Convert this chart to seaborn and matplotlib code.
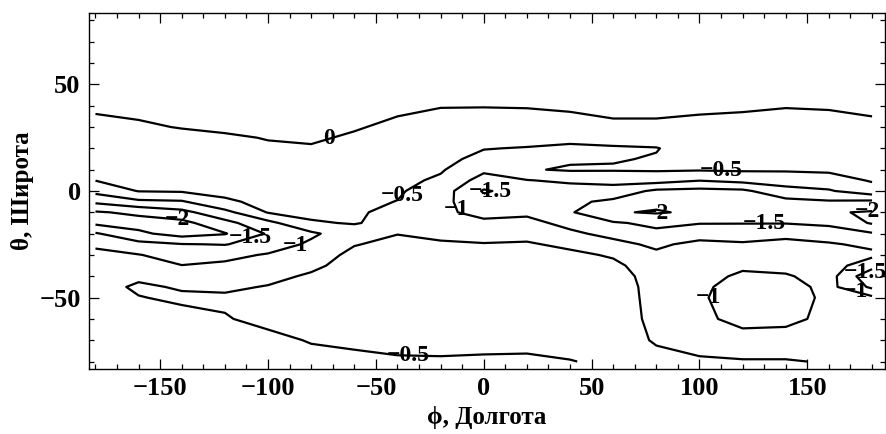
import numpy as np
import matplotlib
matplotlib.use("Agg")
import matplotlib.pyplot as plt
import seaborn as sns
from matplotlib.ticker import MultipleLocator

# ---- grid (longitude columns, latitude rows from north to south) ----
lon = [-180, -160, -140, -120, -100, -80, -60, -40, -20, 0,
       20, 40, 60, 80, 100, 120, 140, 160, 180]
lat = [80, 70, 60, 50, 40, 30, 25, 20, 15, 10, 5, 0, -5, -10, -15,
       -20, -25, -30, -35, -40, -45, -50, -60, -70, -80]

# field values, one profile per longitude (north -> south)
z_m180 = [0.5, 0.5, 0.45, 0.3, 0.05, -0.08, -0.15, -0.22, -0.3, -0.4, -0.49, -0.85, -1.4,
          -2.05, -2.1, -1.45, -1.1, -0.85, -0.75, -0.7, -0.7, -0.7, -0.7, -0.7, -0.7]
z_m160 = [0.5, 0.5, 0.45, 0.3, 0.06, -0.03, -0.1, -0.18, -0.25, -0.33, -0.42, -0.48, -1.1,
          -1.9, -2.2, -1.9, -1.35, -0.98, -0.8, -0.6, -0.42, -0.52, -0.7, -0.7, -0.7]
z_m140 = [0.5, 0.5, 0.45, 0.3, 0.15, 0.01, -0.06, -0.14, -0.22, -0.3, -0.38, -0.45, -1.05,
          -1.65, -2.15, -2.2, -1.48, -1.2, -0.99, -0.75, -0.55, -0.42, -0.65, -0.7, -0.7]
z_m120 = [0.5, 0.5, 0.45, 0.3, 0.15, 0.04, -0.03, -0.12, -0.2, -0.28, -0.35, -0.4, -0.56,
          -1.15, -1.65, -2.03, -1.52, -1.15, -0.9, -0.7, -0.56, -0.45, -0.52, -0.7, -0.7]
z_m100 = [0.5, 0.5, 0.45, 0.3, 0.15, 0.06, 0.01, -0.03, -0.1, -0.18, -0.25, -0.32, -0.4,
          -0.47, -1.15, -1.45, -1.3, -0.95, -0.75, -0.6, -0.48, -0.4, -0.42, -0.58, -0.7]
z_m80 = [0.5, 0.5, 0.45, 0.3, 0.15, 0.07, 0.03, -0.02, -0.08, -0.15, -0.22, -0.3, -0.37,
         -0.43, -0.53, -1.1, -0.9, -0.7, -0.58, -0.45, -0.38, -0.35, -0.38, -0.48, -0.6]
z_m60 = [0.5, 0.5, 0.45, 0.3, 0.12, 0.02, -0.03, -0.1, -0.17, -0.24, -0.3, -0.35, -0.4,
         -0.44, -0.48, -0.65, -0.52, -0.4, -0.35, -0.32, -0.3, -0.3, -0.32, -0.42, -0.6]
z_m40 = [0.5, 0.45, 0.4, 0.25, 0.05, -0.05, -0.12, -0.18, -0.24, -0.3, -0.37, -0.44, -0.51,
         -0.62, -0.6, -0.51, -0.4, -0.32, -0.28, -0.25, -0.25, -0.25, -0.28, -0.38, -0.55]
z_m20 = [0.5, 0.45, 0.4, 0.25, 0.01, -0.09, -0.15, -0.25, -0.35, -0.45, -0.58, -0.75, -0.85,
         -0.9, -0.85, -0.65, -0.42, -0.3, -0.25, -0.22, -0.2, -0.2, -0.22, -0.35, -0.55]
z_0 = [0.5, 0.45, 0.4, 0.25, 0.01, -0.12, -0.25, -0.48, -0.65, -0.9, -1.2, -1.55, -1.35,
       -1.15, -0.9, -0.65, -0.48, -0.3, -0.2, -0.15, -0.12, -0.1, -0.12, -0.3, -0.6]
z_20 = [0.5, 0.45, 0.4, 0.25, 0.02, -0.15, -0.3, -0.53, -0.6, -0.54, -1.02, -1.3, -1.35,
        -1.1, -0.85, -0.65, -0.45, -0.3, -0.2, -0.15, -0.1, -0.1, -0.12, -0.3, -0.62]
z_40 = [0.5, 0.45, 0.4, 0.25, 0.02, -0.05, -0.43, -0.55, -0.56, -0.45, -0.9, -1.25, -1.4,
        -1.45, -1.15, -0.9, -0.6, -0.4, -0.3, -0.2, -0.15, -0.12, -0.15, -0.3, -0.52]
z_60 = [0.5, 0.45, 0.4, 0.2, 0.06, -0.04, -0.3, -0.56, -0.53, -0.46, -0.85, -1.2, -1.6,
        -1.95, -1.45, -1.15, -0.85, -0.55, -0.4, -0.3, -0.25, -0.22, -0.2, -0.25, -0.4]
z_80 = [0.5, 0.45, 0.4, 0.2, 0.06, -0.04, -0.3, -0.52, -0.47, -0.45, -0.8, -1.6, -1.85,
        -2.05, -1.6, -1.4, -1.1, -0.9, -0.75, -0.7, -0.68, -0.68, -0.65, -0.55, -0.35]
z_100 = [0.5, 0.45, 0.4, 0.2, 0.05, -0.07, -0.18, -0.28, -0.36, -0.46, -0.98, -1.65, -1.8,
         -1.9, -1.52, -1.25, -0.85, -0.7, -0.7, -0.8, -0.88, -0.92, -0.85, -0.65, -0.45]
z_120 = [0.5, 0.45, 0.42, 0.25, 0.03, -0.07, -0.15, -0.25, -0.33, -0.44, -0.85, -1.6, -1.8,
         -1.85, -1.52, -1.2, -0.95, -0.8, -0.9, -1.1, -1.25, -1.3, -1.2, -0.75, -0.47]
z_140 = [0.5, 0.45, 0.42, 0.25, 0.01, -0.08, -0.15, -0.24, -0.32, -0.44, -0.8, -1.15, -1.65,
         -1.75, -1.52, -1.15, -0.85, -0.75, -0.85, -1.05, -1.2, -1.25, -1.15, -0.75, -0.47]
z_160 = [0.5, 0.45, 0.42, 0.25, 0.02, -0.08, -0.15, -0.22, -0.3, -0.42, -0.7, -1.05, -1.55,
         -1.95, -1.6, -1.25, -0.95, -0.8, -0.78, -0.8, -0.85, -0.88, -0.85, -0.65, -0.53]
z_180 = [0.5, 0.45, 0.42, 0.25, 0.05, -0.05, -0.12, -0.2, -0.28, -0.36, -0.46, -0.7, -1.6,
         -2.05, -2.05, -1.45, -1.1, -0.9, -1.3, -1.9, -1.6, -0.9, -0.7, -0.65, -0.6]

levels = [-2, -1.5, -1, -0.5, 0]
level_text = ["\u22122", "\u22121.5", "\u22121", "\u22120.5", "0"]

# where the contour labels sit (lon, lat)
label_spots = [(-72, 26), (-40, 0), (110, 15), (-13, -9), (4, -3), (-142, -15),
               (-108, -22), (-87, -26), (80, -10), (130, -15), (178, -12),
               (103, -50), (177, -38), (172, -49), (-35, -77)]

x_label = "\u03d5, Долгота"
y_label = "\u03b8, Широта"

# ---- style ----
sns.set_style("ticks")
plt.rcParams["font.family"] = ["Liberation Serif", "DejaVu Serif"]
plt.rcParams["font.weight"] = "bold"
plt.rcParams["axes.labelweight"] = "bold"
plt.rcParams["axes.unicode_minus"] = True
plt.rcParams["text.color"] = "black"
plt.rcParams["axes.labelcolor"] = "black"
plt.rcParams["xtick.color"] = "black"
plt.rcParams["ytick.color"] = "black"

Z = np.array([z_m180, z_m160, z_m140, z_m120, z_m100, z_m80, z_m60, z_m40, z_m20, z_0,
              z_20, z_40, z_60, z_80, z_100, z_120, z_140, z_160, z_180]).T
lat_arr = np.array(lat)[::-1]
Z = Z[::-1, :]

fig = plt.figure(figsize=(8.86, 4.34), dpi=100)
ax = fig.add_axes([89 / 886, 1 - 369 / 434, 796 / 886, 356 / 434])

cs = ax.contour(np.array(lon), lat_arr, Z, levels=levels, colors="black",
                linewidths=1.6, linestyles="solid")
texts = ax.clabel(cs, fmt=dict(zip(levels, level_text)), inline=False,
                  manual=label_spots, fontsize=17, colors="black")
for t in texts:
    t.set_rotation(0)
    t.set_fontweight("bold")

ax.set_xlim(-183, 186)
ax.set_ylim(-83.5, 83.5)

ax.xaxis.set_major_locator(MultipleLocator(50))
ax.xaxis.set_minor_locator(MultipleLocator(10))
ax.yaxis.set_major_locator(MultipleLocator(50))
ax.yaxis.set_minor_locator(MultipleLocator(10))
ax.tick_params(which="both", direction="in", top=True, right=True,
               colors="black", width=0.9)
ax.tick_params(which="major", length=7, labelsize=19, pad=6)
ax.tick_params(which="minor", length=3.5)
for lab in ax.get_xticklabels() + ax.get_yticklabels():
    lab.set_fontweight("bold")
for sp in ax.spines.values():
    sp.set_linewidth(1.0)
    sp.set_color("black")

ax.set_xlabel(x_label, fontsize=18, fontweight="bold", labelpad=4)
ax.set_ylabel(y_label, fontsize=18, fontweight="bold", labelpad=4)

fig.savefig("out.png", dpi=100)
